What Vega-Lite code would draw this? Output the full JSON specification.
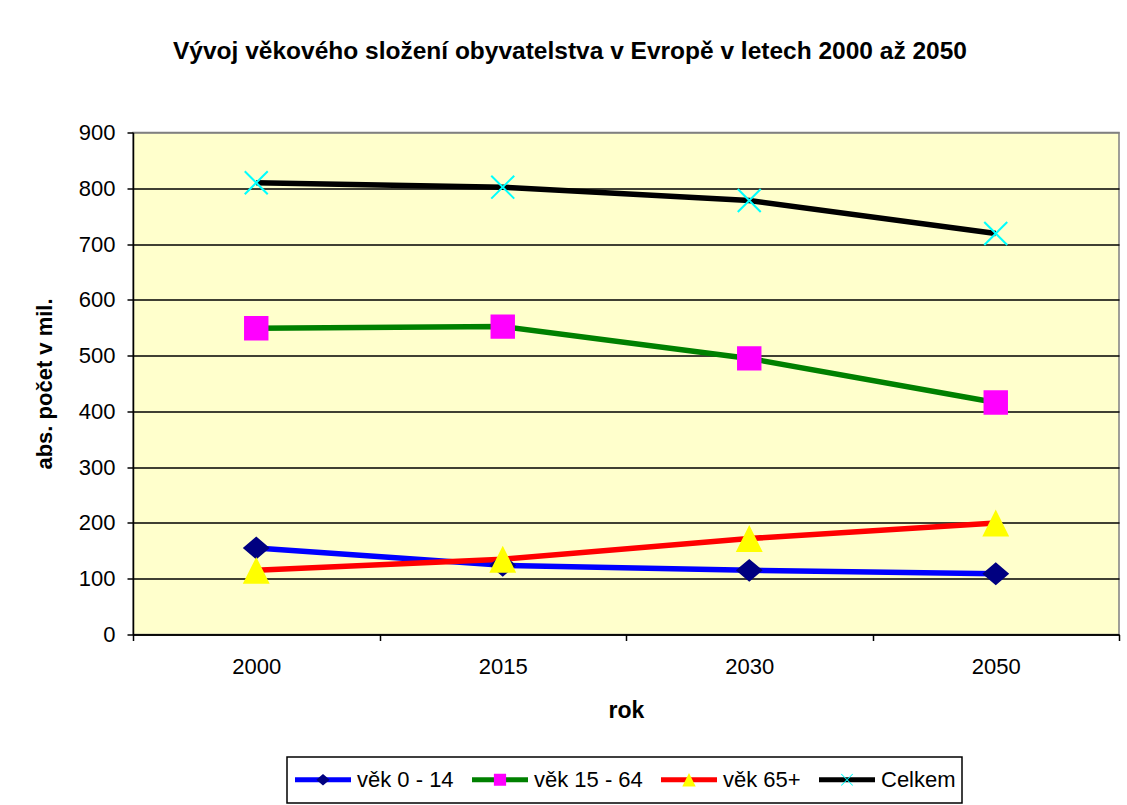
{
  "$schema": "https://vega.github.io/schema/vega-lite/v6.json",
  "autosize": "none",
  "width": 986,
  "height": 502,
  "padding": {"left": 133, "top": 132.5, "right": 8, "bottom": 170.5},
  "background": "white",
  "config": {
    "font": "Liberation Sans",
    "view": {"fill": "#FFFFCC", "stroke": "#808080", "strokeWidth": 1.5}
  },
  "title": {
    "text": "Vývoj věkového složení obyvatelstva v Evropě v letech 2000 až 2050",
    "fontSize": 24.5,
    "fontWeight": "bold",
    "font": "Liberation Sans",
    "color": "black",
    "anchor": "middle",
    "dx": -56,
    "offset": 57
  },
  "data": {
    "values": [
      {"rok": "2000", "series": "věk 0 - 14", "value": 155},
      {"rok": "2015", "series": "věk 0 - 14", "value": 124},
      {"rok": "2030", "series": "věk 0 - 14", "value": 115},
      {"rok": "2050", "series": "věk 0 - 14", "value": 109},
      {"rok": "2000", "series": "věk 15 - 64", "value": 549},
      {"rok": "2015", "series": "věk 15 - 64", "value": 552},
      {"rok": "2030", "series": "věk 15 - 64", "value": 495},
      {"rok": "2050", "series": "věk 15 - 64", "value": 416},
      {"rok": "2000", "series": "věk 65+", "value": 115},
      {"rok": "2015", "series": "věk 65+", "value": 135},
      {"rok": "2030", "series": "věk 65+", "value": 172},
      {"rok": "2050", "series": "věk 65+", "value": 200},
      {"rok": "2000", "series": "Celkem", "value": 810},
      {"rok": "2015", "series": "Celkem", "value": 802},
      {"rok": "2030", "series": "Celkem", "value": 778},
      {"rok": "2050", "series": "Celkem", "value": 719}
    ]
  },
  "encoding": {
    "x": {
      "field": "rok",
      "type": "ordinal",
      "sort": ["2000", "2015", "2030", "2050"],
      "scale": {"paddingInner": 0, "paddingOuter": 0},
      "axis": {
        "title": "rok",
        "titleFontSize": 23,
        "titleFontWeight": "bold",
        "titleColor": "black",
        "titlePadding": 22,
        "labelAngle": 0,
        "labelFontSize": 22,
        "labelColor": "black",
        "labelPadding": 16,
        "tickBand": "extent",
        "tickSize": 6,
        "tickColor": "black",
        "tickWidth": 1.5,
        "domainColor": "black",
        "domainWidth": 1.5,
        "grid": false
      }
    },
    "y": {
      "field": "value",
      "type": "quantitative",
      "scale": {"domain": [0, 900], "nice": false},
      "axis": {
        "title": "abs. počet v mil.",
        "titleFontSize": 22,
        "titleFontWeight": "bold",
        "titleColor": "black",
        "titlePadding": 22,
        "values": [0, 100, 200, 300, 400, 500, 600, 700, 800, 900],
        "labelFontSize": 22,
        "labelColor": "black",
        "labelPadding": 12,
        "tickSize": 6,
        "tickColor": "black",
        "tickWidth": 1.5,
        "domainColor": "black",
        "domainWidth": 1.5,
        "grid": true,
        "gridColor": {"condition": {"test": "datum.value === 900", "value": "#808080"}, "value": "black"},
        "gridWidth": 1.5,
        "gridOpacity": 1
      }
    }
  },
  "layer": [
    {
      "mark": {"type": "line", "strokeWidth": 5.5},
      "encoding": {
        "stroke": {
          "field": "series",
          "type": "nominal",
          "scale": {
            "domain": ["věk 0 - 14", "věk 15 - 64", "věk 65+", "Celkem"],
            "range": ["#0000FF", "#008000", "#FF0000", "#000000"]
          },
          "legend": {
            "title": null,
            "orient": "none",
            "legendX": 154,
            "legendY": 624.5,
            "direction": "horizontal",
            "symbolType": "M-2,-0.5L-2,-0.5M-2,0H2M2,0.5L2,0.5",
            "symbolSize": 784,
            "symbolStrokeWidth": 5,
            "symbolOffset": 13.5,
            "labelFontSize": 22,
            "labelColor": "black",
            "labelOffset": 17.5,
            "columnPadding": 8,
            "padding": 6,
            "strokeColor": "black",
            "fillColor": "white",
            "zindex": 0,
            "encode": {"legend": {"update": {"strokeWidth": {"value": 1.5}}}}
          }
        }
      }
    },
    {
      "mark": {"type": "point", "filled": true, "opacity": 1, "size": 3136},
      "encoding": {
        "fill": {
          "field": "series",
          "type": "nominal",
          "scale": {
            "domain": ["věk 0 - 14", "věk 15 - 64", "věk 65+", "Celkem"],
            "range": ["#000080", "#FF00FF", "#FFFF00", "#00FFFF"]
          },
          "legend": null
        },
        "shape": {
          "field": "series",
          "type": "nominal",
          "scale": {
            "domain": ["věk 0 - 14", "věk 15 - 64", "věk 65+", "Celkem"],
            "range": [
              "M-2,-0.5L-2,-0.5M2,0.5L2,0.5M0,-0.41L0.48,0L0,0.41L-0.48,0Z",
              "M-2,-0.5L-2,-0.5M2,0.5L2,0.5M-0.436,-0.436H0.436V0.436H-0.436Z",
              "M-2,-0.5L-2,-0.5M2,0.5L2,0.5M0,-0.48L0.48,0.48H-0.48Z",
              "M-2,-0.5L-2,-0.5M2,0.5L2,0.5M-0.384,-0.436L0.436,0.384L0.384,0.436L-0.436,-0.384ZM-0.384,0.436L-0.436,0.384L0.384,-0.436L0.436,-0.384Z"
            ]
          },
          "legend": {
            "title": null,
            "orient": "none",
            "legendX": 154,
            "legendY": 624.5,
            "direction": "horizontal",
            "symbolSize": 784,
            "symbolStrokeWidth": 5,
            "symbolStrokeColor": "transparent",
            "symbolOffset": 13.5,
            "labelFontSize": 22,
            "labelOpacity": 0,
            "labelOffset": 17.5,
            "columnPadding": 8,
            "padding": 6,
            "zindex": 1,
            "encode": {
              "symbols": {
                "update": {
                  "fill": {"scale": "fill", "field": "value"},
                  "shape": {"scale": "shape", "field": "value"},
                  "stroke": {"value": "transparent"},
                  "opacity": {"value": 1}
                }
              }
            }
          }
        }
      }
    }
  ],
  "resolve": {"legend": {"stroke": "independent", "shape": "independent", "fill": "independent"}}
}
